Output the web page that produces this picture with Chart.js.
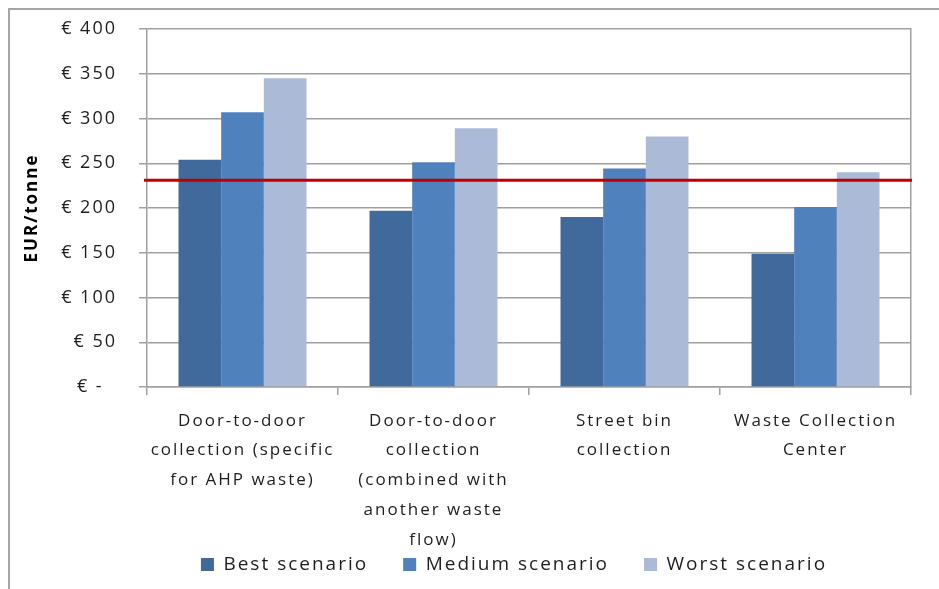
<!DOCTYPE html>
<html>
<head>
<meta charset="utf-8">
<script src="https://cdn.jsdelivr.net/npm/chart.js@4.4.0/dist/chart.umd.min.js"></script>
<style>
  html, body { margin: 0; padding: 0; background: #fff; }
  #wrap { position: relative; width: 939px; height: 589px; overflow: hidden; }
  #frame { position: absolute; left: 8px; top: 8px; width: 960px; height: 600px;
           border-top: 2px solid #a6a6a6; border-left: 2px solid #a6a6a6; pointer-events: none; }
  canvas { position: absolute; left: 0; top: 0; }
</style>
</head>
<body>
<div id="wrap">
  <canvas id="chart" width="939" height="589"></canvas>
  <div id="frame"></div>
</div>
<script>
// Collection cost per tonne for each collection system
const categories = [
  ['Door-to-door', 'collection (specific', 'for AHP waste)'],
  ['Door-to-door', 'collection', '(combined with', 'another waste', 'flow)'],
  ['Street bin', 'collection'],
  ['Waste Collection', 'Center']
];
const seriesNames = ['Best scenario', 'Medium scenario', 'Worst scenario'];
const bestScenario = [254, 197, 190, 149];
const mediumScenario = [307, 251, 244, 201];
const worstScenario = [345, 289, 280, 240];
const referenceCost = 231;
const yTickValues = [0, 50, 100, 150, 200, 250, 300, 350, 400];
const yTickLabels = ['€ -  ', '€ 50', '€ 100', '€ 150', '€ 200', '€ 250', '€ 300', '€ 350', '€ 400'];

const FONT = "'Open Sans', 'Liberation Sans', sans-serif";
const GRID = '#a0a0a0';
const TEXT = '#1e1e1e';

// Slightly open letter spacing for all canvas text
const textSpacing = {
  id: 'textSpacing',
  beforeUpdate(chart) { chart.ctx.letterSpacing = '2px'; },
  beforeDraw(chart) { chart.ctx.letterSpacing = '2px'; }
};

// Horizontal reference line across the plot area
const referenceLine = {
  id: 'referenceLine',
  afterDatasetsDraw(chart) {
    const { ctx, chartArea, scales } = chart;
    const py = scales.y.getPixelForValue(referenceCost);
    ctx.save();
    ctx.strokeStyle = '#c00000';
    ctx.lineWidth = 3;
    ctx.beginPath();
    ctx.moveTo(chartArea.left - 3, py);
    ctx.lineTo(chartArea.right + 1, py);
    ctx.stroke();
    ctx.restore();
  }
};

// Lift the legend block so it sits just under the category labels
const legendPlacement = {
  id: 'legendPlacement',
  afterLayout(chart) {
    const lg = chart.legend;
    if (!lg) return;
    lg.top -= 32; lg.bottom -= 32;
    lg.left -= 15; lg.right -= 15;
  }
};

new Chart(document.getElementById('chart'), {
  type: 'bar',
  data: {
    labels: categories,
    datasets: [
      { label: seriesNames[0], data: bestScenario, backgroundColor: '#406a9c' },
      { label: seriesNames[1], data: mediumScenario, backgroundColor: '#4f81bd' },
      { label: seriesNames[2], data: worstScenario, backgroundColor: '#aabad7' }
    ]
  },
  options: {
    responsive: false,
    animation: false,
    devicePixelRatio: 1,
    categoryPercentage: 0.67,
    barPercentage: 1.0,
    layout: { padding: { top: 29, left: 10, right: 28, bottom: -27 } },
    plugins: {
      tooltip: { enabled: false },
      legend: {
        position: 'bottom',
        fullSize: false,
        labels: {
          boxWidth: 13, boxHeight: 13, padding: 35,
          color: TEXT,
          font: { family: FONT, size: 19 }
        }
      }
    },
    scales: {
      x: {
        grid: { drawOnChartArea: false, tickLength: 8, color: GRID, lineWidth: 1.5, offset: true },
        border: { color: GRID, width: 1.5 },
        ticks: {
          color: TEXT, padding: 11, maxRotation: 0, autoSkip: false,
          font: { family: FONT, size: 17, lineHeight: 1.75 }
        },
        afterFit(scale) { scale.height = 165; }
      },
      y: {
        min: 0, max: 400,
        grid: { color: GRID, lineWidth: 1.5, tickLength: 8 },
        border: { color: GRID, width: 1.5 },
        ticks: {
          stepSize: 50, padding: 22, color: TEXT,
          font: { family: FONT, size: 18 },
          callback: (v) => yTickLabels[yTickValues.indexOf(v)]
        },
        title: {
          display: true, text: 'EUR/tonne', color: '#000',
          font: { family: FONT, size: 17, weight: 'bold' },
          padding: { top: 12, bottom: 0 }
        },
        afterFit(scale) {
          scale.width = 137;
          scale.paddingTop = 11;
          scale.paddingBottom = 11;
        }
      },
      y2: {
        position: 'right',
        min: 0, max: 400,
        grid: { display: false },
        ticks: { display: false },
        border: { display: true, color: GRID, width: 1.5 },
        afterFit(scale) { scale.width = 0; }
      }
    }
  },
  plugins: [textSpacing, referenceLine, legendPlacement]
});
</script>
</body>
</html>
